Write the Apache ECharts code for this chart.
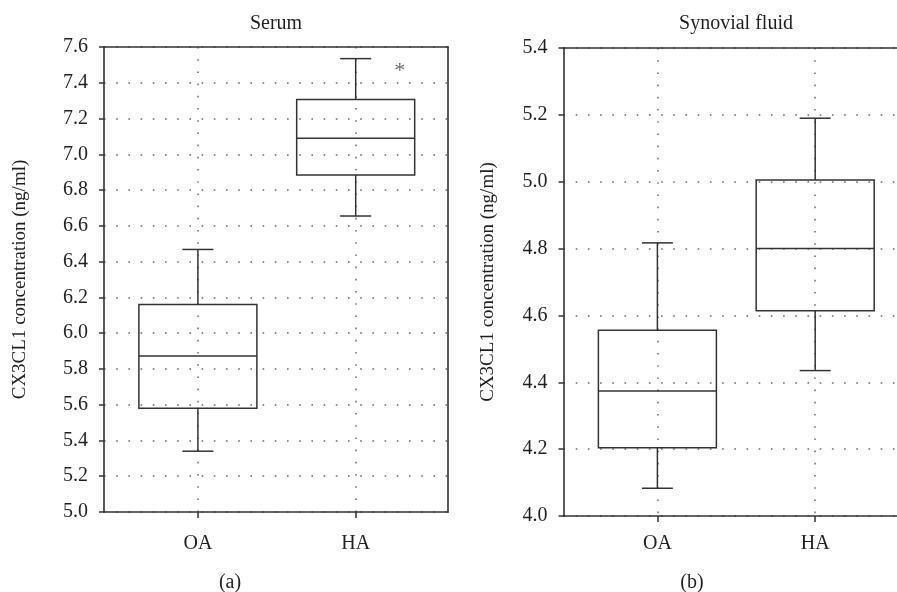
<!DOCTYPE html>
<html>
<head>
<meta charset="utf-8">
<script src="https://cdn.jsdelivr.net/npm/echarts@6/dist/echarts.min.js"></script>
<style>
html,body{margin:0;padding:0;background:#fff;}
#chart{width:897px;height:592px;}
</style>
</head>
<body>
<div id="chart"></div>
<script>
// ---- data ----
const categories = ['OA', 'HA'];
// [min, Q1, median, Q3, max]
const serumOA = [5.34, 5.58, 5.872, 6.16, 6.468];
const serumHA = [6.655, 6.885, 7.09, 7.306, 7.535];
const synovialOA = [4.083, 4.204, 4.374, 4.556, 4.817];
const synovialHA = [4.435, 4.614, 4.80, 5.005, 5.19];
const serumTicks = [5.0, 5.2, 5.4, 5.6, 5.8, 6.0, 6.2, 6.4, 6.6, 6.8, 7.0, 7.2, 7.4, 7.6];
const synovialTicks = [4.0, 4.2, 4.4, 4.6, 4.8, 5.0, 5.2, 5.4];
const asteriskPoint = [2.28, 7.465];
const panelTitles = ['Serum', 'Synovial fluid'];
const panelTags = ['(a)', '(b)'];
const yAxisName = 'CX3CL1 concentration (ng/ml)';

const FONT = 'Liberation Serif';
const INK = '#231f20';
const LINE = '#333333';
const DOT = { type: [1.6, 10.6], width: 1.5, color: '#6a6a6a' };

function boxData(groups) {
  return groups.map((g, i) => [i + 1].concat(g));
}

function renderBox(params, api) {
  const x = api.value(0);
  const pMin = api.coord([x, api.value(1)]);
  const pQ1 = api.coord([x, api.value(2)]);
  const pMed = api.coord([x, api.value(3)]);
  const pQ3 = api.coord([x, api.value(4)]);
  const pMax = api.coord([x, api.value(5)]);
  const bw = 118, cw = 31;
  const cx = pMed[0];
  const st = { stroke: LINE, lineWidth: 1.5, fill: null };
  return {
    type: 'group',
    children: [
      { type: 'rect', shape: { x: cx - bw / 2, y: pQ3[1], width: bw, height: pQ1[1] - pQ3[1] }, style: st },
      { type: 'line', shape: { x1: cx - bw / 2, y1: pMed[1], x2: cx + bw / 2, y2: pMed[1] }, style: st },
      { type: 'line', shape: { x1: cx, y1: pQ3[1], x2: cx, y2: pMax[1] }, style: st },
      { type: 'line', shape: { x1: cx, y1: pQ1[1], x2: cx, y2: pMin[1] }, style: st },
      { type: 'line', shape: { x1: cx - cw / 2, y1: pMax[1], x2: cx + cw / 2, y2: pMax[1] }, style: st },
      { type: 'line', shape: { x1: cx - cw / 2, y1: pMin[1], x2: cx + cw / 2, y2: pMin[1] }, style: st }
    ]
  };
}

const XMIN = 0.405, XMAX = 2.585;
const catValues = categories.map((c, i) => i + 1);

function mainX(gridIndex, margin) {
  return {
    type: 'value', gridIndex, min: XMIN, max: XMAX, position: 'bottom',
    axisLine: { show: true, onZero: false, lineStyle: { color: LINE, width: 1.6 } },
    axisTick: { show: true, customValues: catValues, inside: false, length: 6, lineStyle: { color: LINE, width: 1.5 } },
    axisLabel: { show: true, customValues: catValues, margin: margin, color: INK, fontFamily: FONT, fontSize: 20,
      formatter: v => categories[Math.round(v) - 1] || '' },
    splitLine: { show: true, lineStyle: DOT }
  };
}
function topX(gridIndex) {
  return {
    type: 'value', gridIndex, min: XMIN, max: XMAX, position: 'top',
    axisLine: { show: true, onZero: false, lineStyle: { color: LINE, width: 1.6 } },
    axisTick: { show: false }, axisLabel: { show: false }, splitLine: { show: false }
  };
}
function mainY(gridIndex, ticks, gap) {
  return {
    type: 'value', gridIndex, min: ticks[0], max: ticks[ticks.length - 1], interval: 0.2,
    position: 'left',
    name: yAxisName, nameLocation: 'middle', nameGap: gap,
    nameTextStyle: { color: INK, fontFamily: FONT, fontSize: 19 },
    axisLine: { show: true, onZero: false, lineStyle: { color: LINE, width: 1.6 } },
    axisTick: { show: true, inside: false, length: 5, lineStyle: { color: LINE, width: 1.5 } },
    axisLabel: { show: true, margin: 16, color: INK, fontFamily: FONT, fontSize: 20, formatter: v => v.toFixed(1) },
    splitLine: { show: true, lineStyle: DOT }
  };
}
function rightY(gridIndex, ticks) {
  return {
    type: 'value', gridIndex, min: ticks[0], max: ticks[ticks.length - 1], interval: 0.2,
    position: 'right',
    axisLine: { show: true, onZero: false, lineStyle: { color: LINE, width: 1.6 } },
    axisTick: { show: false }, axisLabel: { show: false }, splitLine: { show: false }
  };
}

const chart = echarts.init(document.getElementById('chart'), null, { renderer: 'canvas' });
chart.setOption({
  backgroundColor: '#ffffff',
  animation: false,
  grid: [
    { left: 104, top: 47, width: 344, height: 465, containLabel: false, outerBoundsMode: 'none' },
    { left: 563.5, top: 48, width: 344, height: 468, containLabel: false, outerBoundsMode: 'none' }
  ],
  xAxis: [mainX(0, 22), topX(0), mainX(1, 18), topX(1)],
  yAxis: [mainY(0, serumTicks, 74), rightY(0, serumTicks), mainY(1, synovialTicks, 66), rightY(1, synovialTicks)],
  series: [
    { type: 'custom', xAxisIndex: 0, yAxisIndex: 0, renderItem: renderBox,
      encode: { x: 0, y: [1, 2, 3, 4, 5] }, data: boxData([serumOA, serumHA]), z: 5 },
    { type: 'custom', xAxisIndex: 2, yAxisIndex: 2, renderItem: renderBox,
      encode: { x: 0, y: [1, 2, 3, 4, 5] }, data: boxData([synovialOA, synovialHA]), z: 5 },
    { type: 'scatter', xAxisIndex: 0, yAxisIndex: 0, symbolSize: 0, silent: true,
      data: [asteriskPoint],
      label: { show: true, position: 'inside', formatter: '*', color: '#444', fontFamily: FONT, fontSize: 22 } }
  ],
  graphic: [
    { type: 'text', x: 276, y: 24, style: { text: panelTitles[0], align: 'center', verticalAlign: 'middle', fill: INK, font: '20px "Liberation Serif"' } },
    { type: 'text', x: 736, y: 24, style: { text: panelTitles[1], align: 'center', verticalAlign: 'middle', fill: INK, font: '20px "Liberation Serif"' } },
    { type: 'text', x: 230, y: 583, style: { text: panelTags[0], align: 'center', verticalAlign: 'middle', fill: INK, font: '20px "Liberation Serif"' } },
    { type: 'text', x: 692, y: 583, style: { text: panelTags[1], align: 'center', verticalAlign: 'middle', fill: INK, font: '20px "Liberation Serif"' } }
  ]
});
</script>
</body>
</html>
